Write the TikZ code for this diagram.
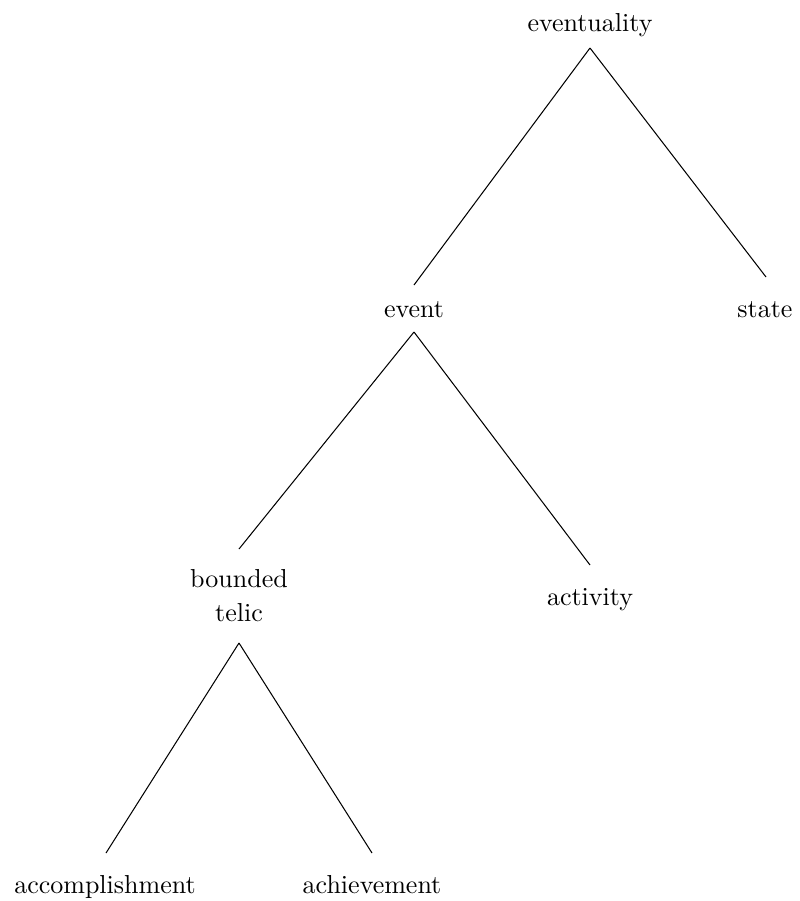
\documentclass[tikz,border=0pt]{standalone}
\usetikzlibrary{calc}
\begin{document}
\begin{tikzpicture}[x=0.3846pt,y=-0.3846pt,
  lbl/.style={inner sep=0pt,anchor=base},
  edge/.style={draw=black,line width=0.4pt}]
\useasboundingbox (0,0) rectangle (800,901);
\node[lbl] (eventuality) at (590,31) {eventuality};
\node[lbl] (event) at (414,317) {event};
\node[lbl] (state) at (765,317) {state};
\node[inner sep=0pt,align=center] (bt) at (239,596) {bounded\\[1pt]telic};
\node[lbl] (activity) at (590,605) {activity};
\node[lbl] (accomplishment) at (105,893) {accomplishment};
\node[lbl] (achievement) at (372,893) {achievement};
\draw[edge] ($(eventuality.base)+(0,17)$) -- ($(event.base)+(0,-32)$);
\draw[edge] ($(eventuality.base)+(0,17)$) -- ($(state.base)+(1,-40)$);
\draw[edge] ($(event.base)+(0,15)$) -- ($(bt.center)+(0,-47)$);
\draw[edge] ($(event.base)+(0,15)$) -- ($(activity.base)+(0,-40)$);
\draw[edge] ($(bt.center)+(0,47)$) -- ($(accomplishment.base)+(1,-40)$);
\draw[edge] ($(bt.center)+(0,47)$) -- ($(achievement.base)+(0,-40)$);
\end{tikzpicture}
\end{document}
